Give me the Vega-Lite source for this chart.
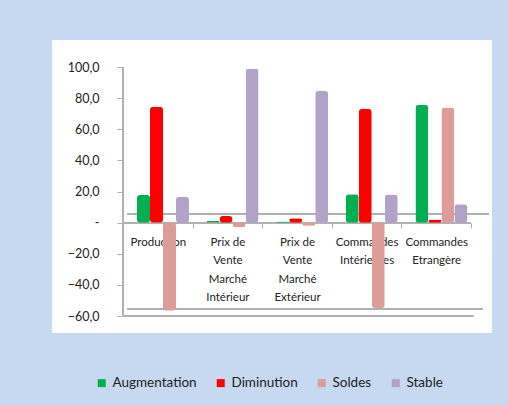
{
  "$schema": "https://vega.github.io/schema/vega-lite/v6.json",
  "width": 440,
  "height": 293,
  "autosize": {"type": "none"},
  "padding": {"left": 52, "top": 40, "right": 16, "bottom": 72},
  "background": "#c6d9f0",
  "config": {
    "view": {"fill": "white", "stroke": null},
    "font": "Lato"
  },
  "resolve": {"axis": {"x": "independent", "y": "independent"}},
  "data": {
    "values": [
      {"Categorie": "Production", "Serie": "Augmentation", "Valeur": 17.8},
      {"Categorie": "Production", "Serie": "Diminution", "Valeur": 74.5},
      {"Categorie": "Production", "Serie": "Soldes", "Valeur": -56.7},
      {"Categorie": "Production", "Serie": "Stable", "Valeur": 16.7},
      {"Categorie": "Prix de Vente Marché Intérieur", "Serie": "Augmentation", "Valeur": 1.2},
      {"Categorie": "Prix de Vente Marché Intérieur", "Serie": "Diminution", "Valeur": 4.2},
      {"Categorie": "Prix de Vente Marché Intérieur", "Serie": "Soldes", "Valeur": -3.0},
      {"Categorie": "Prix de Vente Marché Intérieur", "Serie": "Stable", "Valeur": 99.0},
      {"Categorie": "Prix de Vente Marché Extérieur", "Serie": "Augmentation", "Valeur": 0.8},
      {"Categorie": "Prix de Vente Marché Extérieur", "Serie": "Diminution", "Valeur": 2.8},
      {"Categorie": "Prix de Vente Marché Extérieur", "Serie": "Soldes", "Valeur": -2.0},
      {"Categorie": "Prix de Vente Marché Extérieur", "Serie": "Stable", "Valeur": 84.5},
      {"Categorie": "Commandes Intérieures", "Serie": "Augmentation", "Valeur": 18.2},
      {"Categorie": "Commandes Intérieures", "Serie": "Diminution", "Valeur": 73.0},
      {"Categorie": "Commandes Intérieures", "Serie": "Soldes", "Valeur": -54.8},
      {"Categorie": "Commandes Intérieures", "Serie": "Stable", "Valeur": 18.0},
      {"Categorie": "Commandes Etrangère", "Serie": "Augmentation", "Valeur": 75.6},
      {"Categorie": "Commandes Etrangère", "Serie": "Diminution", "Valeur": 2.0},
      {"Categorie": "Commandes Etrangère", "Serie": "Soldes", "Valeur": 74.0},
      {"Categorie": "Commandes Etrangère", "Serie": "Stable", "Valeur": 11.8}
    ]
  },
  "layer": [
    {
      "mark": {"type": "rule", "color": "#b0b0b0", "strokeWidth": 1.5},
      "encoding": {
        "x": {"datum": "Production", "type": "nominal", "bandPosition": 0.07, "axis": null},
        "x2": {"datum": "Commandes Etrangère", "type": "nominal", "bandPosition": 1.25},
        "y": {"datum": 5.5, "type": "quantitative", "axis": null}
      }
    },
    {
      "mark": {"type": "rule", "color": "#b0b0b0", "strokeWidth": 1.5},
      "encoding": {
        "x": {"datum": "Production", "type": "nominal", "bandPosition": 0.07, "axis": null},
        "x2": {"datum": "Commandes Etrangère", "type": "nominal", "bandPosition": 1.17},
        "y": {"datum": -55.5, "type": "quantitative", "axis": null}
      }
    },
    {
      "mark": {"type": "rule", "color": "#b0b0b0", "strokeWidth": 1.5},
      "encoding": {
        "x": {"datum": "Production", "type": "nominal", "bandPosition": 0, "axis": null},
        "x2": {"datum": "Commandes Etrangère", "type": "nominal", "bandPosition": 1.03},
        "y": {"datum": -60, "type": "quantitative", "axis": null}
      }
    },
    {
      "mark": {"type": "rule", "color": "#b0b0b0", "strokeWidth": 1},
      "encoding": {
        "x": {"datum": "Production", "type": "nominal", "bandPosition": 0, "axis": null},
        "y": {"datum": -60, "type": "quantitative", "axis": null},
        "y2": {"datum": 100}
      }
    },
    {
      "mark": {"type": "rule", "color": "#b0b0b0", "strokeWidth": 1},
      "encoding": {
        "x": {"datum": "Production", "type": "nominal", "bandPosition": 0, "axis": null},
        "x2": {"datum": "Commandes Etrangère", "type": "nominal", "bandPosition": 1},
        "y": {"datum": 0, "type": "quantitative", "axis": null}
      }
    },
    {
      "mark": {"type": "bar", "cornerRadius": 3},
      "encoding": {
        "x": {
          "field": "Categorie",
          "type": "nominal",
          "sort": null,
          "title": null,
          "scale": {
            "domain": ["Production", "Prix de Vente Marché Intérieur", "Prix de Vente Marché Extérieur", "Commandes Intérieures", "Commandes Etrangère"],
            "range": [71, 419],
            "paddingInner": 0,
            "paddingOuter": 0
          },
          "axis": {
            "orient": "bottom",
            "offset": -110,
            "domain": false,
            "grid": false,
            "tickBand": "extent",
            "tickColor": "#b0b0b0",
            "tickSize": 5,
            "labelAngle": 0,
            "labelExpr": "datum.value ? split(replace(datum.value, 'Prix de ', 'Prix\u00a0de '), ' ') : ''",
            "labelFontSize": 11.5,
            "labelColor": "#222222",
            "labelLineHeight": 18.5,
            "labelBaseline": "top",
            "labelPadding": 8,
            "labelLimit": 200
          }
        },
        "xOffset": {
          "field": "Serie",
          "type": "nominal",
          "sort": ["Augmentation", "Diminution", "Soldes", "Stable"],
          "scale": {"range": [14, 66], "paddingInner": 0, "paddingOuter": 0}
        },
        "y": {
          "field": "Valeur",
          "type": "quantitative",
          "title": null,
          "scale": {"domain": [-70.92, 117.35], "nice": false, "zero": false},
          "axis": {
            "offset": -70,
            "values": [-60, -40, -20, 0, 20, 40, 60, 80, 100],
            "labelExpr": "datum.value == 0 ? '-' : replace(format(datum.value, '.1f'), '.', ',')",
            "labelOverlap": false,
            "grid": false,
            "domain": false,
            "tickColor": "#b0b0b0",
            "tickSize": 5,
            "labelPadding": 18,
            "labelFontSize": 12.5,
            "labelColor": "#222222"
          }
        },
        "color": {
          "field": "Serie",
          "type": "nominal",
          "sort": ["Augmentation", "Diminution", "Soldes", "Stable"],
          "scale": {
            "domain": ["Augmentation", "Diminution", "Soldes", "Stable"],
            "range": ["#00b050", "#ff0000", "#dc9c98", "#b3a2c7"]
          },
          "legend": {
            "title": null,
            "orient": "none",
            "legendX": 43,
            "legendY": 336,
            "direction": "horizontal",
            "columns": 4,
            "symbolType": "square",
            "symbolSize": 64,
            "symbolStrokeWidth": 0,
            "labelFontSize": 13.5,
            "labelColor": "#222222",
            "labelOffset": 4,
            "columnPadding": 17
          }
        }
      }
    }
  ]
}
